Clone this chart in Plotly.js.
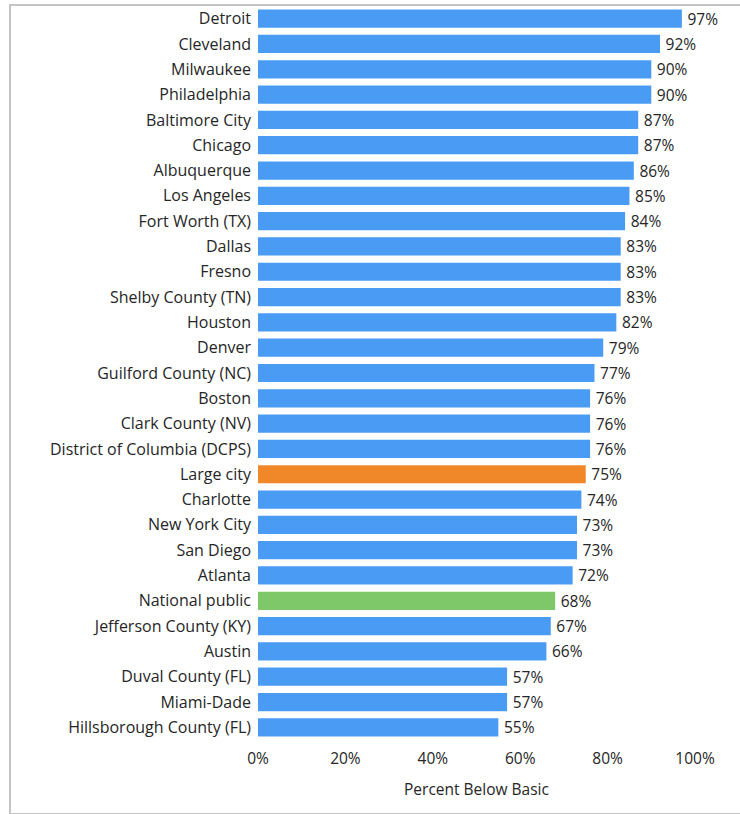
<!DOCTYPE html>
<html>
<head>
<meta charset="utf-8">
<script src="https://cdn.plot.ly/plotly-3.0.1.min.js"></script>
<style>
  html, body { margin: 0; padding: 0; background: #ffffff; }
  #frame { position: absolute; left: 9px; top: 4px; width: 740px; height: 807px;
           border-left: 2px solid #c4c4c4; border-top: 2px solid #c4c4c4; border-bottom: 2px solid #c4c4c4; }
  #chart { position: absolute; left: 0; top: 0; width: 740px; height: 814px; }
</style>
</head>
<body>
<div id="frame"></div>
<div id="chart"></div>
<script>
const categories = [
  "Detroit", "Cleveland", "Milwaukee", "Philadelphia", "Baltimore City", "Chicago",
  "Albuquerque", "Los Angeles", "Fort Worth (TX)", "Dallas", "Fresno", "Shelby County (TN)",
  "Houston", "Denver", "Guilford County (NC)", "Boston", "Clark County (NV)",
  "District of Columbia (DCPS)", "Large city", "Charlotte", "New York City", "San Diego",
  "Atlanta", "National public", "Jefferson County (KY)", "Austin", "Duval County (FL)",
  "Miami-Dade", "Hillsborough County (FL)"
];
const percentBelowBasic = [
  97, 92, 90, 90, 87, 87,
  86, 85, 84, 83, 83, 83,
  82, 79, 77, 76, 76,
  76, 75, 74, 73, 73,
  72, 68, 67, 66, 57,
  57, 55
];
const tickValues = [0, 20, 40, 60, 80, 100];
const tickLabels = ["0%", "20%", "40%", "60%", "80%", "100%"];

const BLUE = "#4a9bf4", ORANGE = "#f0882a", GREEN = "#7ec86a";
const colors = categories.map(c => c === "Large city" ? ORANGE : (c === "National public" ? GREEN : BLUE));

const fontFam = "'Open Sans', 'Noto Sans', sans-serif";
const FS = 16;
const trace = {
  type: "bar",
  orientation: "h",
  y: categories,
  x: percentBelowBasic,
  marker: { color: colors },
  text: percentBelowBasic.map(v => "\u2009" + v + "%"),
  textposition: "outside",
  constraintext: "none",
  cliponaxis: false,
  textfont: { family: fontFam, size: 15.5, color: "#262626" },
  hoverinfo: "skip"
};

const layout = {
  width: 740, height: 814,
  margin: { l: 258, r: 45, t: 6, b: 74 },
  paper_bgcolor: "rgba(0,0,0,0)",
  plot_bgcolor: "rgba(0,0,0,0)",
  showlegend: false,
  bargap: 0.28,
  font: { family: fontFam, size: FS, color: "#262626" },
  xaxis: {
    range: [0, 100],
    tickvals: tickValues,
    ticktext: tickLabels,
    showgrid: false, zeroline: false, showline: false,
    ticks: "",
    ticklabelstandoff: 7,
    tickfont: { family: fontFam, size: 15.5, color: "#262626" },
    title: { text: "Percent Below Basic", font: { family: fontFam, size: 15.5, color: "#262626" }, standoff: 16 },
    fixedrange: true
  },
  yaxis: {
    categoryorder: "array",
    categoryarray: categories,
    autorange: "reversed",
    showgrid: false, zeroline: false, showline: false,
    ticks: "",
    ticklabelstandoff: 6,
    tickfont: { family: fontFam, size: FS, color: "#262626" },
    fixedrange: true
  }
};

Plotly.newPlot("chart", [trace], layout, { displayModeBar: false, staticPlot: true });
</script>
</body>
</html>
